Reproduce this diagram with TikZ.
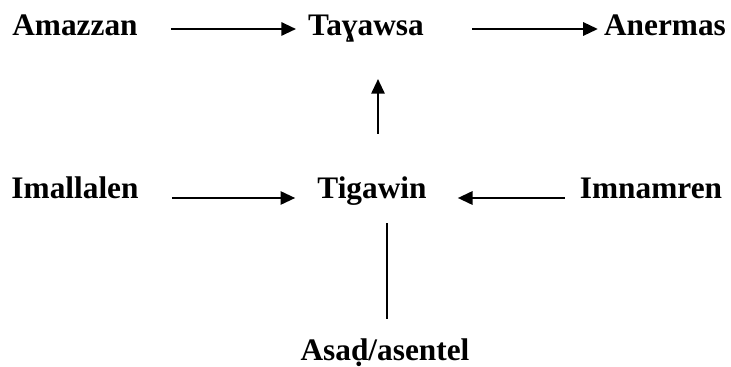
\documentclass[tikz,border=0pt]{standalone}
\usepackage{fontspec}
\setmainfont{Liberation Serif}
\usetikzlibrary{arrows.meta}
\begin{document}
\begin{tikzpicture}[x=0.75pt,y=-0.75pt,
  term/.style={font=\fontsize{23.5}{28}\selectfont\bfseries,inner sep=0pt,anchor=base},
  arr/.style={line width=1.5pt,-{Triangle[length=11pt,width=10pt]}},
  link/.style={line width=1.5pt}]
\useasboundingbox (0,0) rectangle (731,367);

% Top row
\node[term] (amazzan) at (75,36) {Amazzan};
\node[term] (tayawsa) at (366,36) {Taɣawsa};
\node[term] (anermas) at (665,36) {Anermas};

% Middle row
\node[term] (imallalen) at (75,198) {Imallalen};
\node[term] (tigawin) at (372,198) {Tigawin};
\node[term] (imnamren) at (651,198) {Imnamren};

% Bottom
\node[term] (asad) at (385,360) {Asaḍ/asentel};

% Arrows
\draw[arr] ([shift={(33,-7)}]amazzan.base east) -- ([shift={(-12,-7)}]tayawsa.base west);
\draw[arr] ([shift={(48,-7)}]tayawsa.base east) -- ([shift={(-6,-7)}]anermas.base west);
\draw[arr] ([shift={(33,0)}]imallalen.base east) -- ([shift={(-22,0)}]tigawin.base west);
\draw[arr] ([shift={(-15,0)}]imnamren.base west) -- ([shift={(31,0)}]tigawin.base east);
\draw[arr] ([shift={(6,-42)}]tigawin.north) -- ([shift={(12,36)}]tayawsa.south);
\draw[link] ([shift={(15,18)}]tigawin.south) -- ([shift={(2,-19)}]asad.north);
\end{tikzpicture}
\end{document}
